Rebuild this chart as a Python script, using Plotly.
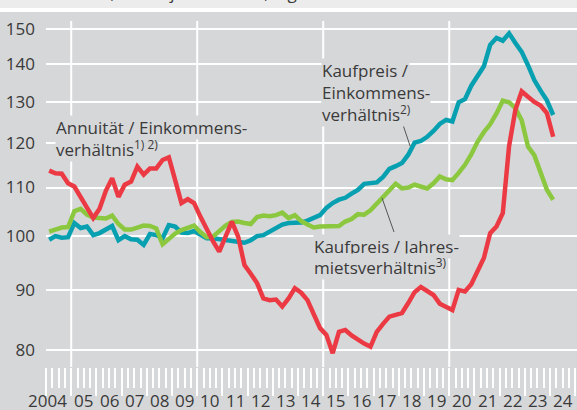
import math
import plotly.graph_objects as go

# ---------------- data (quarterly, 2004 Q1 - 2024 Q1) ----------------
years = list(range(2004, 2025))
periods = [(y, q) for y in years for q in range(1, 5)][:81]
year_labels = ["2004"] + [f"{y % 100:02d}" for y in years[1:]]
grid_years = [2005, 2010, 2015, 2020]
y_ticks = [80, 90, 100, 110, 120, 130, 140, 150]

kaufpreis_einkommen = [
    99.3, 100.0, 99.7, 99.8, 102.6, 101.6, 101.9, 100.2, 100.6, 101.3,
    102.0, 99.2, 100.0, 99.4, 99.3, 98.3, 100.4, 100.2, 99.6, 102.2,
    101.9, 100.7, 100.6, 101.0, 100.3, 99.6, 99.6, 99.4, 99.2, 99.2,
    99.0, 98.7, 99.2, 100.0, 100.2, 100.9, 101.8, 102.3, 102.6, 102.6,
    102.7, 103.1, 103.6, 104.2, 105.7, 106.7, 107.4, 107.8, 108.7, 109.5,
    110.8, 111.0, 111.1, 112.3, 114.1, 114.7, 115.4, 117.3, 120.1, 120.5,
    121.5, 122.9, 124.6, 125.6, 125.2, 130.0, 130.8, 134.3, 137.0, 139.5,
    145.5, 147.5, 146.7, 148.8, 146.0, 143.5, 139.8, 135.8, 133.0, 130.5,
    126.8,
]

annuitaet_einkommen = [
    113.7, 113.1, 113.0, 110.9, 110.2, 107.8, 105.6, 103.6, 105.5, 109.3,
    112.0, 108.0, 110.6, 111.3, 114.6, 112.8, 114.2, 114.2, 116.1, 116.7,
    111.6, 106.7, 107.5, 106.7, 103.9, 101.2, 99.0, 97.0, 100.0, 102.9,
    99.9, 94.5, 92.9, 91.2, 88.5, 88.2, 88.3, 87.1, 88.5, 90.3,
    89.5, 88.2, 85.8, 83.5, 82.4, 79.5, 82.9, 83.2, 82.3, 81.6,
    81.0, 80.5, 82.9, 84.2, 85.4, 85.7, 86.0, 87.7, 89.6, 90.5,
    89.8, 89.1, 87.6, 87.0, 86.5, 90.0, 89.7, 91.0, 93.5, 95.8,
    100.6, 101.9, 104.6, 119.3, 128.1, 132.8, 131.4, 130.1, 129.2, 127.3,
    121.5,
]

kaufpreis_miete = [
    100.9, 101.3, 101.7, 101.8, 105.0, 105.5, 104.3, 103.7, 103.5, 103.5,
    104.1, 102.4, 101.3, 101.3, 101.7, 102.1, 102.0, 101.5, 98.4, 99.4,
    100.5, 101.2, 101.7, 102.1, 100.8, 99.8, 99.9, 101.0, 102.1, 102.8,
    102.9, 102.6, 102.4, 103.8, 104.1, 104.0, 104.2, 104.7, 103.6, 104.2,
    103.0, 102.3, 101.7, 101.9, 102.0, 101.9, 102.0, 102.9, 103.4, 104.4,
    104.3, 105.2, 106.6, 107.8, 109.2, 110.8, 109.8, 110.0, 110.6, 110.2,
    109.8, 110.9, 112.4, 111.8, 111.6, 113.2, 115.0, 117.4, 120.3, 122.6,
    124.5, 127.2, 130.4, 130.0, 128.5, 125.5, 119.2, 117.2, 113.5, 109.5,
    107.4,
]

# ---------------- styling ----------------
BG = "#d6d7d9"
TOP_BAND = "#ececed"
TEXT = "#3a3a3a"
FONT = "Open Sans"
TEAL = "#07a0b1"
RED = "#ec3a44"
GREEN = "#8cc83f"

x_vals = [y + (q - 0.5) / 4 for (y, q) in periods]

fig = go.Figure()
for name, vals, col in [
    ("Kaufpreis/Einkommensverhältnis", kaufpreis_einkommen, TEAL),
    ("Kaufpreis/Jahresmietsverhältnis", kaufpreis_miete, GREEN),
    ("Annuität/Einkommensverhältnis", annuitaet_einkommen, RED),
]:
    fig.add_trace(go.Scatter(x=x_vals, y=vals, mode="lines", name=name,
                             line=dict(color=col, width=4.5),
                             hoverinfo="skip", showlegend=False))

W, H = 577, 410
ML, MR, MT, MB = 46, 0, 21, 43
PW, PH = W - ML - MR, H - MT - MB

y_lo, y_hi = 77.37, 152.46
x_lo, x_hi = 2004, 2025.07

def py(pix):  # page pixel (from top) -> paper y
    return 1 + (MT - pix) / PH

def px(pix):  # page pixel (from left) -> paper x
    return (pix - ML) / PW

shapes = []
# top band and white separator
shapes.append(dict(type="rect", xref="paper", yref="paper", x0=-0.2, x1=1.05,
                   y0=py(8), y1=py(-20), fillcolor=TOP_BAND, line_width=0, layer="below"))
shapes.append(dict(type="rect", xref="paper", yref="paper", x0=-0.2, x1=1.05,
                   y0=py(12), y1=py(8), fillcolor="white", line_width=0, layer="below"))
# vertical gridlines every 5 years
for gy in grid_years:
    shapes.append(dict(type="line", xref="x", yref="paper", x0=gy, x1=gy, y0=0, y1=1,
                       line=dict(color="white", width=2), layer="below"))
# leader lines (data coords)
shapes.append(dict(type="line", xref="x", yref="y", x0=2018.17, y0=124.3, x1=2018.45, y1=119.3,
                   line=dict(color="#555555", width=1)))
shapes.append(dict(type="line", xref="x", yref="y", x0=2017.33, y0=107.8, x1=2017.81, y1=100.8,
                   line=dict(color="#555555", width=1)))

annotations = []
# partially visible header line (only descenders show at the top edge)
annotations.append(dict(xref="paper", yref="paper", x=px(22), y=py(-8), xanchor="left",
                        yanchor="middle", showarrow=False,
                        text="2004 = 100, Vierteljahreswerte, log. Maßstab",
                        font=dict(family=FONT, size=17, color=TEXT)))
# year labels ("2004": the "04" part centred under its year like the others)
for y, lab_ in zip(years, year_labels):
    if len(lab_) == 4:
        annotations.append(dict(xref="x", yref="paper", x=y + 0.5, y=py(400), xanchor="right",
                                xshift=10, yanchor="middle", showarrow=False, text=lab_,
                                font=dict(family=FONT, size=17, color=TEXT)))
    else:
        annotations.append(dict(xref="x", yref="paper", x=y + 0.5, y=py(400), xanchor="center",
                                yanchor="middle", showarrow=False, text=lab_,
                                font=dict(family=FONT, size=17, color=TEXT)))

def lab(text, x, ypix_val):
    annotations.append(dict(xref="x", yref="y", x=x, y=math.log10(ypix_val), xanchor="left",
                            yanchor="middle", showarrow=False, text=text, bgcolor=BG,
                            borderpad=0,
                            font=dict(family=FONT, size=17, color=TEXT)))

def val(pix):
    return 100 * 10 ** ((236.2 - pix) / 1174.7)

def xr(pix):
    return 2004 + (pix - 46) / 25.2

lab("Annuität / Einkommens-", xr(55), val(128))
lab("verhältnis<sup>1) 2)</sup>", xr(55), val(149))
lab("Kaufpreis /", xr(321), val(71))
lab("Einkommens-", xr(321), val(93))
lab("verhältnis<sup>2)</sup>", xr(321), val(114))
lab("Kaufpreis / Jahres-", xr(313), val(247))
lab("mietsverhältnis<sup>3)</sup>", xr(313), val(267))

fig.update_layout(
    width=W, height=H,
    margin=dict(l=ML, r=MR, t=MT, b=MB, pad=0),
    paper_bgcolor=BG, plot_bgcolor=BG,
    font=dict(family=FONT, size=17, color=TEXT),
    shapes=shapes, annotations=annotations,
    xaxis=dict(range=[x_lo, x_hi], showgrid=False, zeroline=False, showline=False,
               tickmode="linear", tick0=2004, dtick=1, ticks="outside", ticklen=28,
               tickwidth=1.8, tickcolor="white", showticklabels=False,
               minor=dict(ticks="outside", ticklen=20, tickwidth=1.8, tickcolor="white",
                          tickmode="linear", tick0=2004, dtick=0.25, showgrid=False)),
    yaxis=dict(type="log", range=[math.log10(y_lo), math.log10(y_hi)],
               tickvals=y_ticks, ticktext=[str(v) for v in y_ticks],
               showgrid=True, gridcolor="white", gridwidth=2, zeroline=False,
               showline=False, ticks="", ticklabelstandoff=10,
               tickfont=dict(family=FONT, size=17, color=TEXT)),
)

fig.write_html("out.html", config={"displayModeBar": False},
               post_script="document.body.style.margin='0';document.body.style.overflow='hidden';")
